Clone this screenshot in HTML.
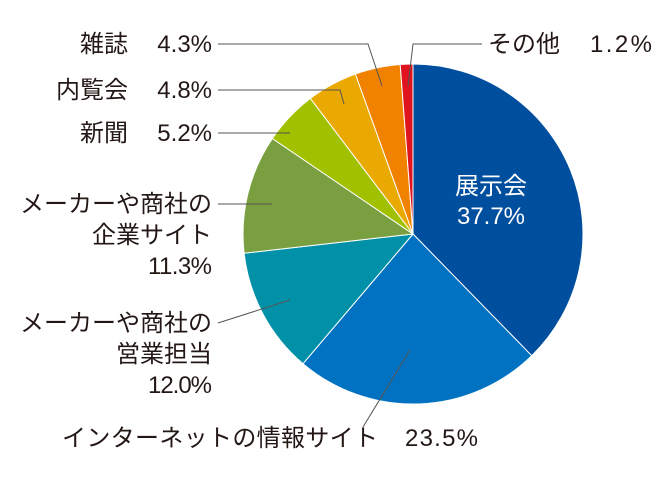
<!DOCTYPE html>
<html><head><meta charset="utf-8"><style>
html,body{margin:0;padding:0;background:#fff;}
svg{display:block;}
text{font-family:"Liberation Sans","Noto Sans CJK JP",sans-serif;font-size:24px;fill:#231815;}
</style></head><body>
<svg width="670" height="480" viewBox="0 0 670 480">
<g stroke="#fff" stroke-width="1">
<path d="M413,234 L413,64 A170,170 0 0 1 531.7,355.7 Z" fill="#004e9e"/>
<path d="M413,234 L531.7,355.7 A170,170 0 0 1 303.0,363.7 Z" fill="#0072c1"/>
<path d="M413,234 L303.0,363.7 A170,170 0 0 1 244.1,253.2 Z" fill="#0091a9"/>
<path d="M413,234 L244.1,253.2 A170,170 0 0 1 272.4,138.5 Z" fill="#7a9f41"/>
<path d="M413,234 L272.4,138.5 A170,170 0 0 1 310.4,98.4 Z" fill="#a0c000"/>
<path d="M413,234 L310.4,98.4 A170,170 0 0 1 355.4,74.0 Z" fill="#eaa900"/>
<path d="M413,234 L355.4,74.0 A170,170 0 0 1 400.2,64.5 Z" fill="#f08200"/>
<path d="M413,234 L400.2,64.5 A170,170 0 0 1 413,64 Z" fill="#e0141e"/>
</g>
<g stroke="#555" stroke-width="1" fill="none">
<polyline points="218,44 368,44 382,86"/>
<polyline points="218,90 340,90 344,104"/>
<polyline points="218,133 290,133"/>
<polyline points="218,204 272,204"/>
<polyline points="218,323 290,300"/>
<polyline points="363,427 410,350"/>
<polyline points="482,44 413,44 408,86"/>
</g>
<g text-anchor="end">
<text x="128" y="52">雑誌</text><text x="212" y="52">4.3%</text>
<text x="128" y="98">内覧会</text><text x="212" y="98">4.8%</text>
<text x="128" y="141">新聞</text><text x="212" y="141">5.2%</text>
<text x="212" y="212">メーカーや商社の</text>
<text x="212" y="243">企業サイト</text>
<text x="212" y="274" textLength="64">11.3%</text>
<text x="212" y="331">メーカーや商社の</text>
<text x="212" y="362">営業担当</text>
<text x="212" y="393" textLength="64">12.0%</text>
</g>
<text x="62" y="446" textLength="316">インターネットの情報サイト</text>
<text x="405" y="446" textLength="73">23.5%</text>
<text x="488" y="52">その他</text>
<text x="590" y="52" textLength="62">1.2%</text>
<text x="491" y="194" text-anchor="middle" style="fill:#fff">展示会</text>
<text x="491" y="224" text-anchor="middle" style="fill:#fff">37.7%</text>
</svg>
</body></html>
